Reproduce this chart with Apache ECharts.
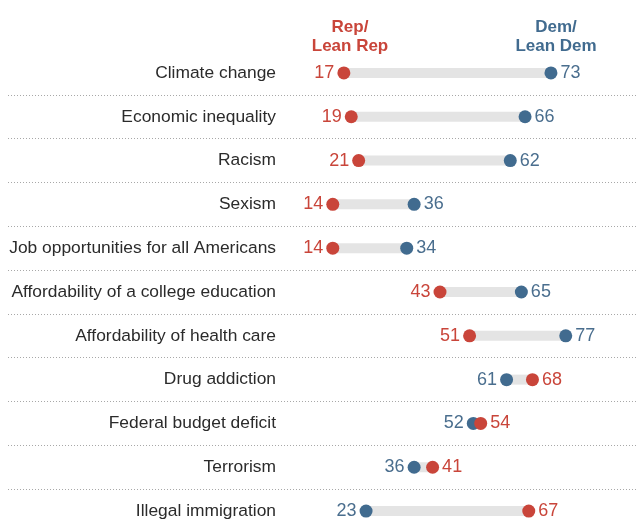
<!DOCTYPE html>
<html>
<head>
<meta charset="utf-8">
<script src="https://cdn.jsdelivr.net/npm/echarts@6/dist/echarts.min.js"></script>
<style>
  html, body { margin: 0; padding: 0; background: #fff; }
  #main { width: 638px; height: 520px; }
</style>
</head>
<body>
<div id="main"></div>
<script>
var topics = ['Climate change', 'Economic inequality', 'Racism', 'Sexism',
    'Job opportunities for all Americans', 'Affordability of a college education',
    'Affordability of health care', 'Drug addiction', 'Federal budget deficit',
    'Terrorism', 'Illegal immigration'];
var repValues = [17, 19, 21, 14, 14, 43, 51, 68, 54, 41, 67];
var demValues = [73, 66, 62, 36, 34, 65, 77, 61, 52, 36, 23];

var RED = '#c9453a';
var BLUE = '#416b8f';
var FONT = '"Liberation Sans", Arial, sans-serif';

var lows = [], gaps = [];
for (var i = 0; i < topics.length; i++) {
    lows.push(Math.min(repValues[i], demValues[i]));
    gaps.push(Math.abs(repValues[i] - demValues[i]));
}

// label goes on the outside of each pair
function dotData(values, other) {
    return values.map(function (v, i) {
        return {
            value: [v, topics[i]],
            label: { position: v <= other[i] ? 'left' : 'right' }
        };
    });
}

var chart = echarts.init(document.getElementById('main'));
chart.setOption({
    animation: false,
    textStyle: { fontFamily: FONT },
    title: [
        {
            text: 'Rep/\nLean Rep', left: 345, top: 13, textAlign: 'center',
            textStyle: { color: RED, fontSize: 17, fontWeight: 'bold', lineHeight: 19, fontFamily: FONT }
        },
        {
            text: 'Dem/\nLean Dem', left: 551, top: 13, textAlign: 'center',
            textStyle: { color: BLUE, fontSize: 17, fontWeight: 'bold', lineHeight: 19, fontFamily: FONT }
        }
    ],
    grid: [
        { left: 281, top: 51, width: 355, height: 482, outerBoundsMode: 'none' },
        { left: 8, right: 0, top: 51, height: 482, outerBoundsMode: 'none' }
    ],
    xAxis: [
        { type: 'value', min: 0, max: 96, show: false },
        { type: 'value', gridIndex: 1, min: 0, max: 1, show: false }
    ],
    yAxis: [
        {
            type: 'category',
            data: topics,
            inverse: true,
            axisLine: { show: false },
            axisTick: { show: false },
            splitLine: { show: false },
            axisLabel: { color: '#2b2b2b', fontSize: 17.4, margin: 5, fontFamily: FONT }
        },
        {
            type: 'category',
            gridIndex: 1,
            data: topics,
            inverse: true,
            axisLine: { show: false },
            axisTick: { show: false },
            axisLabel: { show: false },
            splitLine: {
                show: true,
                showMinLine: false,
                lineStyle: { color: '#a8a8a8', type: [1, 2], width: 1 }
            }
        }
    ],
    series: [
        {
            type: 'bar',
            stack: 'gap',
            barWidth: 10,
            silent: true,
            itemStyle: { color: 'transparent' },
            data: lows
        },
        {
            type: 'bar',
            stack: 'gap',
            barWidth: 10,
            silent: true,
            itemStyle: { color: '#e4e4e4' },
            data: gaps
        },
        {
            type: 'scatter',
            symbolSize: 13,
            itemStyle: { color: BLUE, opacity: 1 },
            label: { show: true, color: '#4a6e8e', fontSize: 18, distance: 3, fontFamily: FONT,
                formatter: function (p) { return p.value[0]; } },
            data: dotData(demValues, repValues)
        },
        {
            type: 'scatter',
            symbolSize: 13,
            itemStyle: { color: RED, opacity: 1 },
            label: { show: true, color: RED, fontSize: 18, distance: 3, fontFamily: FONT,
                formatter: function (p) { return p.value[0]; } },
            data: dotData(repValues, demValues)
        }
    ]
});
</script>
</body>
</html>
